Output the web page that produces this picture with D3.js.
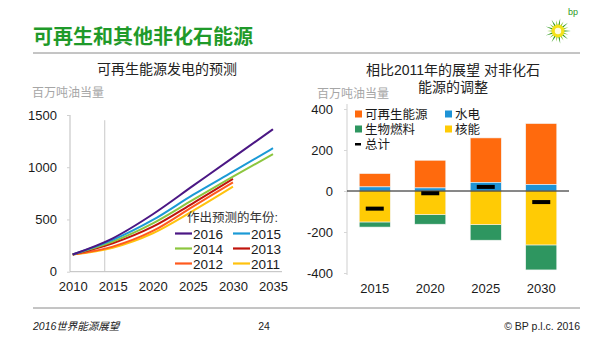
<!DOCTYPE html>
<html>
<head>
<meta charset="utf-8">
<script src="https://cdn.jsdelivr.net/npm/d3@7"></script>
<style>
body { margin: 0; background: #fff; }
text { font-family: "Liberation Sans", "Noto Sans CJK SC", sans-serif; }
</style>
</head>
<body>
<svg id="chart" width="600" height="337"></svg>
<script>
// line chart data (Mtoe)
var years = [2010, 2015, 2020, 2025, 2030, 2035];
var outlook2016 = [165, 320, 550, 821, 1092, 1364];
var outlook2015 = [165, 304, 495, 735, 958, 1182];
var outlook2014 = [165, 288, 463, 687, 910, 1125];
var outlook2013 = [165, 272, 431, 655, 888, null];
var outlook2012 = [165, 240, 390, 623, 856, null];
var outlook2011 = [165, 230, 368, 582, 814, null];
var lineTicksX = [2010, 2015, 2020, 2025, 2030, 2035];
var lineTicksY = [0, 500, 1000, 1500];

// bar chart data (change vs 2011 outlook, Mtoe)
var barYears = ["2015", "2020", "2025", "2030"];
var renewables = [65, 135, 217, 298];
var hydro = [20, 15, 42, 31];
var nuclear = [-151, -115, -164, -263];
var biofuels = [-25, -47, -76, -122];
var totals = [-86, -11, 20, -54];
var barTicksY = [-400, -200, 0, 200, 400];

var plain = function(d) { return String(d); };
var svg = d3.select("#chart");

// header
svg.append("text").attr("x", 33).attr("y", 44)
    .attr("font-size", "20px").attr("font-weight", "bold").attr("fill", "#1f9a2a")
    .text("可再生和其他非化石能源");
svg.append("line").attr("x1", 33).attr("x2", 580).attr("y1", 53).attr("y2", 53)
    .attr("stroke", "#8a8a8a").attr("stroke-width", 1);

// bp logo
var logo = svg.append("g").attr("transform", "translate(558,31)");
for (var i = 0; i < 18; i++) {
    var a = i * Math.PI * 2 / 18;
    var r = (i % 2 == 0) ? 13 : 11;
    logo.append("path")
        .attr("d", "M" + (Math.cos(a - 0.17) * 5) + "," + (Math.sin(a - 0.17) * 5) +
            " L" + (Math.cos(a) * r) + "," + (Math.sin(a) * r) +
            " L" + (Math.cos(a + 0.17) * 5) + "," + (Math.sin(a + 0.17) * 5) + "Z")
        .attr("fill", i % 2 == 0 ? "#2f9a1e" : "#8cc83c");
}
logo.append("circle").attr("r", 6.5).attr("fill", "#f4e21a");
logo.append("circle").attr("r", 3.2).attr("fill", "#fffbe0");
svg.append("text").attr("x", 568).attr("y", 15).attr("font-size", "9px")
    .attr("fill", "#2f9a1e").text("bp");

// ---------- line chart ----------
var x = d3.scaleLinear().domain([2010, 2035]).range([72.7, 273]);
var y = d3.scaleLinear().domain([0, 1500]).range([271.7, 115]);

svg.append("text").attr("x", 167).attr("y", 74).attr("text-anchor", "middle")
    .attr("font-size", "14px").attr("fill", "#222").text("可再生能源发电的预测");
svg.append("text").attr("x", 32).attr("y", 97)
    .attr("font-size", "12px").attr("fill", "#a6a6a6").text("百万吨油当量");

var xAxis = svg.append("g").attr("transform", "translate(0," + y(0) + ")")
    .call(d3.axisBottom(x).tickValues(lineTicksX).tickFormat(plain).tickSize(0).tickPadding(10));
xAxis.select(".domain").attr("d", "M70,0H282").attr("stroke", "#bdbdbd");
xAxis.selectAll("text").attr("font-size", "13px").attr("fill", "#1a1a1a")
    .style("font-family", "Liberation Sans, sans-serif");

var yAxis = svg.append("g").attr("transform", "translate(70,0)")
    .call(d3.axisLeft(y).tickValues(lineTicksY).tickFormat(plain).tickSize(3).tickPadding(10));
yAxis.select(".domain").attr("d", "M0," + y(0) + "V" + y(1500)).attr("stroke", "#bdbdbd");
yAxis.selectAll(".tick line").attr("stroke", "#d0d0d0");
yAxis.selectAll("text").attr("font-size", "13px").attr("fill", "#1a1a1a")
    .style("font-family", "Liberation Sans, sans-serif");

// last historical year marker
svg.append("line").attr("x1", x(2014)).attr("x2", x(2014))
    .attr("y1", y(1450)).attr("y2", y(0))
    .attr("stroke", "#c8c8c8").attr("stroke-width", 1);

var lineSeries = [
    { name: "2011", values: outlook2011, color: "#ffc20e" },
    { name: "2012", values: outlook2012, color: "#ff5a1e" },
    { name: "2013", values: outlook2013, color: "#c0140c" },
    { name: "2014", values: outlook2014, color: "#8cc63f" },
    { name: "2015", values: outlook2015, color: "#1b9ad6" },
    { name: "2016", values: outlook2016, color: "#4b1784" }
];

var line = d3.line()
    .defined(function(d) { return d[1] != null; })
    .x(function(d) { return x(d[0]); })
    .y(function(d) { return y(d[1]); })
    .curve(d3.curveMonotoneX);

svg.selectAll(".proj")
    .data(lineSeries)
    .enter().append("path")
    .attr("class", "proj")
    .attr("fill", "none")
    .attr("stroke", function(d) { return d.color; })
    .attr("stroke-width", 2)
    .attr("d", function(d) {
        return line(years.map(function(yr, i) { return [yr, d.values[i]]; }));
    });

// line legend
svg.append("text").attr("x", 278).attr("y", 222).attr("text-anchor", "end")
    .attr("font-size", "12.5px").attr("fill", "#333").text("作出预测的年份:");
var legendOrder = ["2016", "2015", "2014", "2013", "2012", "2011"];
legendOrder.forEach(function(name, i) {
    var s = lineSeries.filter(function(d) { return d.name == name; })[0];
    var lx = (i % 2 == 0) ? 175 : 233;
    var ly = 233.5 + Math.floor(i / 2) * 15;
    svg.append("line").attr("x1", lx).attr("x2", lx + 17).attr("y1", ly).attr("y2", ly)
        .attr("stroke", s.color).attr("stroke-width", 2.2);
    svg.append("text").attr("x", lx + 18).attr("y", ly + 5)
        .attr("font-size", "13.5px").attr("fill", "#1a1a1a").text(name);
});

// ---------- bar chart ----------
var bx = d3.scaleBand().domain(barYears).range([347, 569]).paddingInner(0.44).paddingOuter(0.22);
var by = d3.scaleLinear().domain([-400, 400]).range([273, 109]);

svg.append("text").attr("x", 453).attr("y", 75).attr("text-anchor", "middle")
    .attr("font-size", "14px").attr("fill", "#222").text("相比2011年的展望 对非化石");
svg.append("text").attr("x", 453).attr("y", 92).attr("text-anchor", "middle")
    .attr("font-size", "14px").attr("fill", "#222").text("能源的调整");
svg.append("text").attr("x", 317).attr("y", 98)
    .attr("font-size", "12px").attr("fill", "#a6a6a6").text("百万吨油当量");

var bAxisY = svg.append("g").attr("transform", "translate(347,0)")
    .call(d3.axisLeft(by).tickValues(barTicksY).tickFormat(plain).tickSize(3).tickPadding(11));
bAxisY.select(".domain").attr("d", "M0,104V275").attr("stroke", "#cfcfcf");
bAxisY.selectAll(".tick line").attr("stroke", "#d6d6d6");
bAxisY.selectAll("text").attr("font-size", "13px").attr("fill", "#1a1a1a")
    .style("font-family", "Liberation Sans, sans-serif");

var stacks = [
    { key: "renewables", label: "可再生能源", color: "#ff6a0d", lo: hydro, hi: renewables },
    { key: "hydro", label: "水电", color: "#1e93d6", lo: null, hi: hydro },
    { key: "biofuels", label: "生物燃料", color: "#2e9660", lo: nuclear, hi: biofuels },
    { key: "nuclear", label: "核能", color: "#ffcb05", lo: null, hi: nuclear }
];

stacks.forEach(function(s) {
    svg.selectAll(".bar-" + s.key)
        .data(barYears)
        .enter().append("rect")
        .attr("class", "bar-" + s.key)
        .attr("x", function(d) { return bx(d); })
        .attr("width", bx.bandwidth())
        .attr("y", function(d, i) {
            var v0 = s.lo ? s.lo[i] : 0;
            var v1 = v0 + s.hi[i];
            return by(Math.max(v0, v1));
        })
        .attr("height", function(d, i) { return Math.abs(by(0) - by(s.hi[i])); })
        .attr("fill", s.color)
        .attr("stroke", "#f4f4f4")
        .attr("stroke-width", 0.6);
});

svg.append("line").attr("x1", 347).attr("x2", 569).attr("y1", by(0)).attr("y2", by(0))
    .attr("stroke", "#111").attr("stroke-width", 1);

svg.selectAll(".total")
    .data(barYears)
    .enter().append("rect")
    .attr("class", "total")
    .attr("x", function(d) { return bx(d) + bx.bandwidth() / 2 - 9; })
    .attr("y", function(d, i) { return by(totals[i]) - 2; })
    .attr("width", 18)
    .attr("height", 4)
    .attr("fill", "#000");

var bAxisX = svg.append("g").attr("transform", "translate(0," + by(-400) + ")")
    .call(d3.axisBottom(bx).tickSize(0).tickPadding(11));
bAxisX.select(".domain").remove();
bAxisX.selectAll("text").attr("font-size", "13px").attr("fill", "#1a1a1a")
    .style("font-family", "Liberation Sans, sans-serif");

// bar legend
stacks.forEach(function(s, i) {
    var lx = (i % 2 == 0) ? 355 : 445;
    var ly = 114 + Math.floor(i / 2) * 15;
    svg.append("rect").attr("x", lx).attr("y", ly - 3.5).attr("width", 7).attr("height", 7)
        .attr("fill", s.color);
    svg.append("text").attr("x", lx + 10).attr("y", ly + 4.5)
        .attr("font-size", "12.5px").attr("fill", "#1a1a1a").text(s.label);
});
svg.append("rect").attr("x", 355).attr("y", 143).attr("width", 6).attr("height", 2.5).attr("fill", "#000");
svg.append("text").attr("x", 365).attr("y", 148.5)
    .attr("font-size", "12.5px").attr("fill", "#1a1a1a").text("总计");

// footer
svg.append("line").attr("x1", 33).attr("x2", 580).attr("y1", 308).attr("y2", 308)
    .attr("stroke", "#8a8a8a").attr("stroke-width", 1);
svg.append("text").attr("x", 33).attr("y", 330).attr("font-size", "10.5px")
    .attr("font-style", "italic").attr("fill", "#222").text("2016世界能源展望");
svg.append("text").attr("x", 264).attr("y", 330).attr("text-anchor", "middle")
    .attr("font-size", "10.5px").attr("fill", "#222").text("24");
svg.append("text").attr("x", 580).attr("y", 330).attr("text-anchor", "end")
    .attr("font-size", "10.5px").attr("fill", "#222").text("© BP p.l.c. 2016");
</script>
</body>
</html>
